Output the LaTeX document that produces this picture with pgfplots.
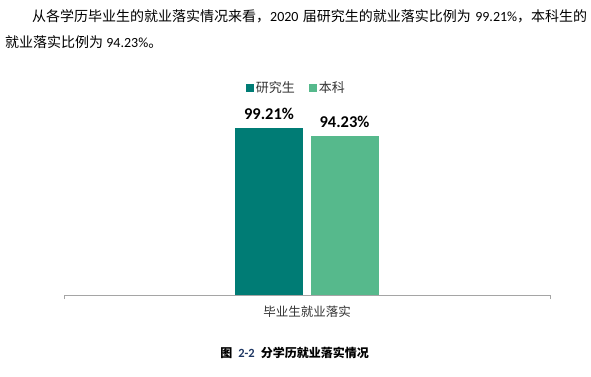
\documentclass[border=0pt]{standalone}
\usepackage{pgfplots}
\pgfplotsset{compat=1.18}
\usepackage{fontspec}
\setmainfont{Carlito}
\newfontfamily\cjk{Noto Sans CJK SC}
\definecolor{tealA}{RGB}{0,124,117}
\definecolor{greenB}{RGB}{86,185,140}
\definecolor{axgray}{RGB}{165,165,165}
\definecolor{navy}{RGB}{31,56,100}
\XeTeXlinebreaklocale "zh"
\XeTeXlinebreakskip=0pt plus 1pt
\begin{document}
\begin{tikzpicture}[x=1pt,y=1pt]
\path[use as bounding box] (0,0) rectangle (591,-377);
\node[anchor=base west, inner sep=0, font=\fontsize{14}{16}\selectfont] at (32,-22)
  {\makebox[555pt][s]{{\cjk 从各学历毕业生的就业落实情况来看，}2020 {\cjk 届研究生的就业落实比例为} 99.21\%{\cjk ，本科生的}}};
\node[anchor=base west, inner sep=0, font=\fontsize{14}{16}\selectfont] at (5,-48)
  {{\cjk 就业落实比例为} 94.23\%{\cjk 。}};
\begin{axis}[
  at={(64pt,-295pt)}, anchor=south west,
  scale only axis, width=486pt, height=195pt,
  xmin=0, xmax=1, ymin=0, ymax=115.86,
  enlargelimits=false, clip=false,
  axis x line*=bottom, axis y line=none, ytick=\empty,
  x axis line style={draw=axgray, line width=0.8pt, -},
  xtick={0,1}, xticklabels={,}, tick align=inside, major tick length=4pt,
  x tick style={draw=axgray, line width=0.8pt},
  extra x ticks={0.5}, extra x tick labels={毕业生就业落实},
  extra x tick style={major tick length=0pt, tick label style={anchor=base, yshift=-21.3pt, font=\cjk\fontsize{12.5}{14}\selectfont, text=black!80}},
  ybar, bar width=68pt,
  point meta=y,
  nodes near coords={\pgfmathprintnumber[assume math mode=true, fixed, fixed zerofill, precision=2]{\pgfplotspointmeta}\%},
  every node near coord/.append style={font=\bfseries\fontsize{16.5}{18}\selectfont, anchor=base, yshift=8.7pt, inner sep=0pt, text=black},
  legend style={at={(0.478,1.064)}, anchor=center, draw=none, fill=none, legend columns=2,
    font=\cjk\fontsize{13}{15}\selectfont, text=black!80,
    /tikz/every even column/.append style={column sep=12pt}},
  legend cell align=left,
]
\addplot[fill=tealA, draw=none, bar shift=-38pt, legend image code/.code={\fill[tealA] (0pt,-4pt) rectangle (8pt,4pt);}] coordinates {(0.5,99.21)};
\addlegendentry{研究生}
\addplot[fill=greenB, draw=none, bar shift=37.5pt, legend image code/.code={\fill[greenB] (0pt,-4pt) rectangle (8pt,4pt);}] coordinates {(0.5,94.23)};
\addlegendentry{本科}
\end{axis}
\node[anchor=base] at (294.5,-357.6) {{\cjk\bfseries\fontsize{12}{14}\selectfont 图}\hspace{6pt}{\bfseries\fontsize{12.5}{14}\selectfont\color{navy}2-2}\hspace{6pt}{\cjk\bfseries\fontsize{12}{14}\selectfont 分学历就业落实情况}};
\end{tikzpicture}
\end{document}
